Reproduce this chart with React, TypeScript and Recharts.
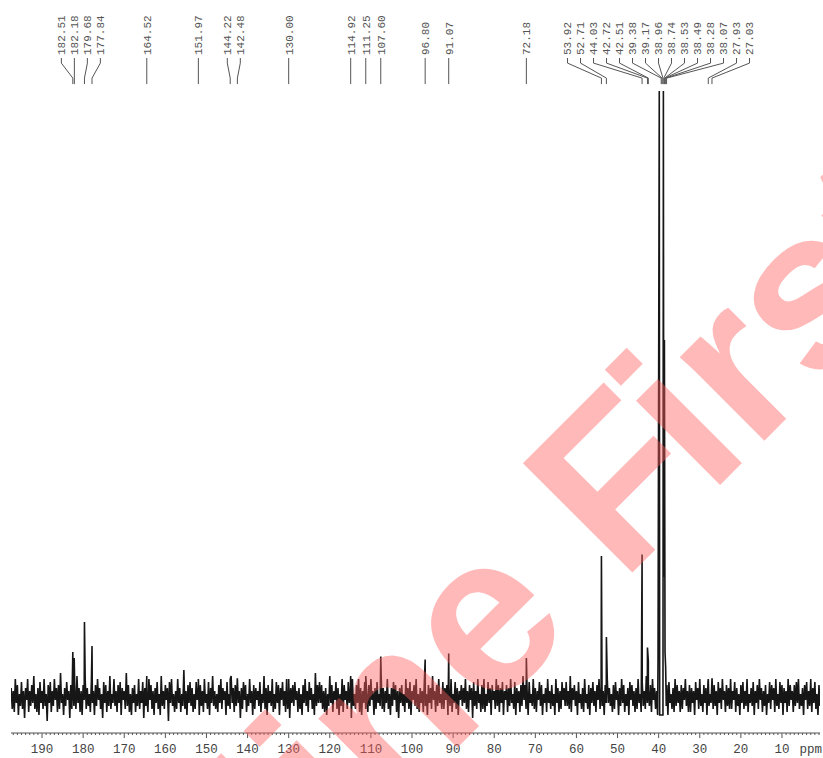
import React from 'react';
import { ComposedChart, Line, XAxis, YAxis, ReferenceDot } from 'recharts';

// ---- spectrum baseline noise (intensity units), sampled every 0.25 ppm from 197.5 ppm downward ----
const NOISE_START_PPM = 197.5;
const NOISE_STEP_PPM = 0.25;
const noise = [
  3,-4,2,-5,6,-2,4,-6,1,-3,5,-4,2,-7,3,-1,6,-5,2,-3,
  4,-2,7,-4,1,-5,3,-6,5,-2,2,-4,6,-3,1,-8,4,-2,5,-5,
  2,-3,6,-1,3,-5,4,-4,8,-2,1,-6,3,-3,5,-1,2,-7,4,-4,
  5,-3,1,-4,7,-2,3,-5,2,-6,4,-1,6,-4,3,-3,1,-5,5,-2,
  2,-6,4,-3,6,-1,3,-4,1,-7,5,-2,4,-5,2,-3,7,-4,1,-2,
  6,-3,2,-5,4,-2,5,-6,3,-1,2,-4,8,-3,4,-5,1,-6,3,-2,
  4,-5,1,-3,6,-4,2,-2,5,-7,3,-3,1,-5,6,-1,4,-4,2,-6,
  3,-2,5,-4,1,-6,7,-3,2,-4,4,-1,3,-8,5,-2,6,-3,1,-5,
  2,-4,6,-2,3,-5,1,-3,9,-4,2,-6,4,-2,5,-3,3,-5,1,-4,
  5,-1,3,-6,4,-3,2,-5,6,-2,1,-4,5,-6,3,-2,7,-3,2,-4,
  1,-5,4,-2,6,-4,3,-1,2,-6,5,-3,1,-4,7,-2,3,-5,4,-3,
  6,-2,2,-7,3,-4,5,-1,4,-5,1,-3,6,-2,2,-6,4,-4,3,-1,
  2,-3,5,-5,1,-2,7,-4,3,-6,4,-2,2,-3,6,-5,1,-4,5,-2,
  4,-6,3,-1,5,-3,2,-5,6,-4,1,-7,3,-2,4,-3,5,-1,2,-5,
  3,-4,1,-6,4,-2,6,-3,2,-5,5,-1,3,-4,1,-6,8,-3,4,-2,
  5,-2,4,-4,2,-5,3,-6,1,-3,7,-2,4,-5,2,-1,5,-4,3,-6,
  1,-3,6,-5,4,-1,2,-4,5,-2,3,-7,6,-3,1,-4,4,-2,6,-5,
  3,-6,2,-2,5,-4,1,-5,4,-3,6,-1,2,-6,3,-4,5,-2,1,-3,
  7,-4,3,-5,2,-2,6,-4,1,-6,3,-3,5,-1,4,-5,2,-7,3,-2,
  4,-3,1,-5,6,-2,3,-4,5,-6,2,-1,4,-3,6,-4,1,-5,3,-2,
  2,-5,5,-3,1,-6,4,-2,3,-4,7,-1,2,-5,4,-3,6,-2,1,-4,
  5,-4,3,-1,4,-6,2,-3,6,-5,1,-2,5,-4,3,-6,2,-1,4,-3,
  3,-2,6,-4,2,-5,4,-1,3,-7,5,-3,2,-4,6,-2,1,-5,4,-4,
  6,-5,1,-3,5,-2,3,-6,4,-1,2,-4,6,-3,4,-5,3,-2,5,-6,
  2,-1,4,-5,3,-3,6,-2,1,-4,5,-6,3,-2,2,-5,4,-3,7,-1,
  4,-4,2,-6,5,-2,1,-3,6,-4,3,-5,2,-1,5,-3,4,-6,1,-2,
  3,-5,6,-2,2,-4,4,-3,1,-6,6,-2,3,-5,2,-4,5,-1,3,-3,
  5,-3,2,-4,7,-5,3,-1,4,-3,2,-6,5,-2,1,-4,3,-5,6,-2,
  1,-4,4,-6,3,-2,5,-3,2,-5,4,-1,6,-4,3,-3,2,-6,4,-2,
  6,-2,3,-3,1,-5,4,-4,5,-1,2,-6,3,-3,6,-2,4,-5,1,-3,
  3,-6,5,-1,4,-3,2,-5,3,-4,6,-2,1,-5,5,-3,2,-4,7,-2,
  2,-3,4,-5,6,-1,3,-4,2,-6,4,-3,5,-2,1,-5,3,-1,4,-6,
  5,-2,1,-4,3,-5,6,-3,4,-2,2,-5,4,-4,3,-1,6,-3,2,-5,
  4,-5,3,-2,2,-6,5,-1,3,-4,6,-3,1,-5,4,-2,3,-6,5,-3,
  1,-2,6,-4,4,-3,2,-6,5,-2,3,-4,6,-1,2,-5,4,-3,3,-4,
  6,-4,2,-1,5,-5,3,-3,1,-6,4,-2,5,-4,2,-3,6,-5,1,-2,
  3,-3,5,-6,2,-2,4,-4,6,-1,3,-5,2,-3,4,-6,1,-2,5,-4,
  4,-1,3,-5,6,-3,1,-4,5,-2,4,-6,3,-2,2,-5,6,-3,4,-1,
  2,-5,4,-3,5,-2,6,-4,1,-3,3,-6,4,-1,5,-4,2,-3,6,-5,
  3,-2,5,-4,1,-6,4,-3,
];

// ---- resolved peaks (ppm, height) ----
const peakPpm = [182.51, 182.18, 179.68, 177.84, 164.52, 151.97, 144.22, 142.48, 130.0, 114.92, 111.25, 107.6, 96.8, 91.07, 72.18, 53.92, 52.71, 44.03, 42.72, 42.51, 27.93, 27.03];
const peakHeight = [15, 13, 25, 17, 7, 6, 6, 6, 6, 7, 7, 13.5, 12.5, 14.5, 13, 47, 20, 47.5, 16.5, 12, 6, 6];

// ---- solvent (DMSO-d6) multiplet region, replaces the baseline noise inside its window ----
const solventWindow = [38.1, 40.2];
const solventPpm = [40.15, 39.85, 39.75, 38.95, 38.85, 38.75, 38.6, 38.45, 38.3, 38.15];
const solventHeight = [13, 202, -6, -6, 202, 40, 119, 15, 10, -3];

// ---- peak-pick labels ----
const labelPpm = [182.51, 182.18, 179.68, 177.84, 164.52, 151.97, 144.22, 142.48, 130.0, 114.92, 111.25, 107.6, 96.8, 91.07, 72.18, 53.92, 52.71, 44.03, 42.72, 42.51, 39.38, 39.17, 38.96, 38.74, 38.53, 38.49, 38.28, 38.07, 27.93, 27.03];

// ---- axis ----
const xDomain = [0.75, 197.55];
const axisTicks = Array.from({ length: 197 }, (_, i) => i + 1);
const labelledTicks = [190, 180, 170, 160, 150, 140, 130, 120, 110, 100, 90, 80, 70, 60, 50, 40, 30, 20, 10];

// layout constants
const W = 823;
const H = 758;
const PX_PER_PPM = (W - 11 - 3) / (xDomain[1] - xDomain[0]);
const LABEL_GAP_PPM = 13 / PX_PER_PPM;
const Y_LABEL = 214;
const Y_LEAD = [213, 211.3, 206.3, 204.3];

// build spectrum
const spectrum: { ppm: number; y: number }[] = [];
noise.forEach((v, i) => {
  const ppm = NOISE_START_PPM - i * NOISE_STEP_PPM;
  if (ppm > solventWindow[0] && ppm < solventWindow[1]) return;
  spectrum.push({ ppm, y: v });
});
peakPpm.forEach((p, i) => spectrum.push({ ppm: p, y: peakHeight[i] }));
solventPpm.forEach((p, i) => spectrum.push({ ppm: p, y: solventHeight[i] }));
spectrum.sort((a, b) => b.ppm - a.ppm);

// spread labels so they don't overlap
function spreadLabels(vals: number[], gap: number): number[] {
  let groups = vals.map((v) => ({ members: [v] }));
  const positions = (g: { members: number[] }) => {
    const c = g.members.reduce((s, x) => s + x, 0) / g.members.length;
    const n = g.members.length;
    return g.members.map((_, k) => c + ((n - 1) / 2) * gap - k * gap);
  };
  let changed = true;
  while (changed) {
    changed = false;
    for (let i = 0; i < groups.length - 1; i++) {
      const a = positions(groups[i]);
      const b = positions(groups[i + 1]);
      if (a[a.length - 1] - b[0] < gap - 1e-6) {
        groups[i] = { members: groups[i].members.concat(groups[i + 1].members) };
        groups.splice(i + 1, 1);
        changed = true;
        break;
      }
    }
  }
  return groups.flatMap(positions);
}
const labelPos = spreadLabels(labelPpm, LABEL_GAP_PPM);

const leaders = labelPpm.map((p, i) => {
  const q = labelPos[i];
  if (Math.abs(q - p) < 0.05) {
    return [{ ppm: q, v: Y_LEAD[0] }, { ppm: q, v: Y_LEAD[3] }];
  }
  return [
    { ppm: q, v: Y_LEAD[0] },
    { ppm: q, v: Y_LEAD[1] },
    { ppm: p, v: Y_LEAD[2] },
    { ppm: p, v: Y_LEAD[3] },
  ];
});

const AxisTick = (props: any) => {
  const { x, y, payload } = props;
  const v = payload.value;
  const major = v % 10 === 0;
  const len = major ? 5 : 2;
  return (
    <g>
      <line x1={x} x2={x} y1={y} y2={y + len} stroke="#555" strokeWidth={1} />
      {labelledTicks.includes(v) ? (
        <text x={x} y={y + 20} textAnchor="middle" fontFamily="'Liberation Mono', 'DejaVu Sans Mono', monospace" fontSize={12.5} fill="#444">
          {v}
        </text>
      ) : null}
    </g>
  );
};

const PpmLabel = (props: any) => {
  const vb = props.viewBox || { x: 11, y: 733, width: 809, height: 25 };
  return (
    <text x={vb.x + vb.width + 2} y={vb.y + 20} textAnchor="end" fontFamily="'Liberation Mono', 'DejaVu Sans Mono', monospace" fontSize={12.5} fill="#444">
      ppm
    </text>
  );
};

const PeakText = (text: string) => (props: any) => {
  const { cx, cy } = props;
  return (
    <text
      x={cx}
      y={cy}
      dy="0.35em"
      transform={`rotate(-90 ${cx} ${cy})`}
      textAnchor="start"
      fontFamily="'Liberation Mono', 'DejaVu Sans Mono', monospace"
      fontSize={11}
      fill="#555"
    >
      {text}
    </text>
  );
};

export default function App() {
  return (
    <div style={{ position: 'absolute', left: 0, top: 0, width: W, height: H, background: '#fff' }}>
      <ComposedChart width={W} height={H} margin={{ top: 0, right: 3, bottom: 0, left: 11 }}>
        <XAxis
          type="number"
          dataKey="ppm"
          domain={xDomain}
          allowDataOverflow
          reversed
          ticks={axisTicks}
          interval={0}
          tickSize={0}
          tickMargin={0}
          tickLine={false}
          tick={<AxisTick />}
          axisLine={{ stroke: '#555', strokeWidth: 1 }}
          height={25}
          label={<PpmLabel />}
        />
        <YAxis type="number" domain={[-12, 697 / 3]} allowDataOverflow hide />
        <Line
          data={spectrum}
          dataKey="y"
          type="linear"
          stroke="#161616"
          strokeWidth={1.6}
          dot={false}
          activeDot={false}
          isAnimationActive={false}
        />
        {leaders.map((d, i) => (
          <Line
            key={'lead' + i}
            data={d}
            dataKey="v"
            type="linear"
            stroke="#555"
            strokeWidth={1}
            dot={false}
            activeDot={false}
            isAnimationActive={false}
          />
        ))}
        {labelPpm.map((p, i) => (
          <ReferenceDot
            key={'lbl' + i}
            x={labelPos[i]}
            y={Y_LABEL}
            r={0}
            shape={PeakText(p.toFixed(2))}
          />
        ))}
      </ComposedChart>
      <svg width={W} height={H} style={{ position: 'absolute', left: 0, top: 0, pointerEvents: 'none' }}>
        <text
          transform="translate(82.5 1122.5) rotate(-45)"
          fontFamily="'Liberation Sans', Arial, sans-serif"
          fontWeight="bold"
          fontSize={225}
          fill="rgb(255,93,93)"
          fillOpacity={0.43}
        >
          Online F<tspan dx={-14}>irst</tspan>
        </text>
      </svg>
    </div>
  );
}
